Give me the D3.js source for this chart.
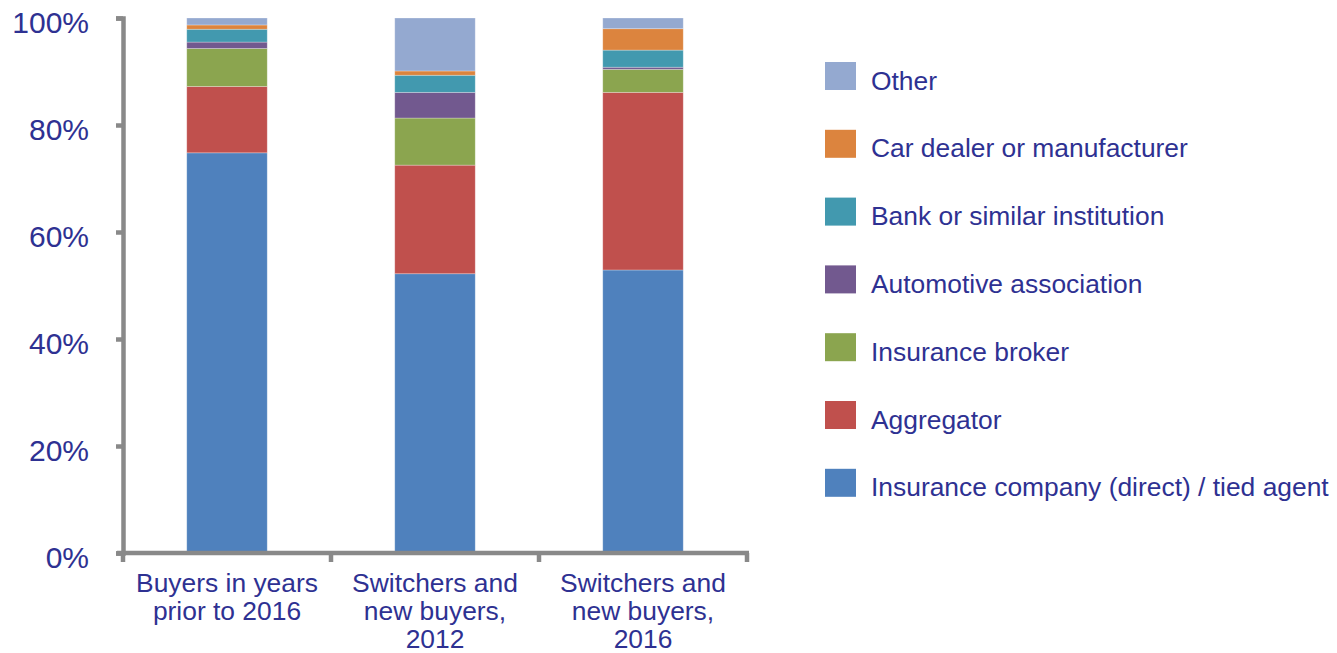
<!DOCTYPE html>
<html>
<head>
<meta charset="utf-8">
<script src="https://cdn.jsdelivr.net/npm/d3@7"></script>
<style>
  body { margin: 0; background: #fff; }
  text { font-family: "Liberation Sans", Arial, sans-serif; }
</style>
</head>
<body>
<svg id="Chart" width="1337" height="653"></svg>
<script>
// categories (x axis), each label split in lines
var categories = ["Buyers in years prior to 2016", "Switchers and new buyers, 2012", "Switchers and new buyers, 2016"];
var categoryLines = [
	["Buyers in years", "prior to 2016"],
	["Switchers and", "new buyers,", "2012"],
	["Switchers and", "new buyers,", "2016"]
];

// series, bottom to top of the stack
var series = [
	"Insurance company (direct) / tied agent",
	"Aggregator",
	"Insurance broker",
	"Automotive association",
	"Bank or similar institution",
	"Car dealer or manufacturer",
	"Other"
];
var seriesColors = ["#4f81bd", "#c0504d", "#8ba54f", "#72598f", "#4299af", "#dc843e", "#94a9d0"];

// share in % for each series, one value per category
var insuranceCompany = [74.8, 52.2, 52.9];
var aggregator       = [12.4, 20.3, 33.2];
var insuranceBroker  = [7.1, 8.8, 4.3];
var automotiveAssoc  = [1.2, 4.8, 0.4];
var bank             = [2.4, 3.2, 3.2];
var carDealer        = [0.8, 0.8, 4.0];
var other            = [1.3, 9.9, 2.0];

var yTicks = [0, 0.2, 0.4, 0.6, 0.8, 1];

var values = [insuranceCompany, aggregator, insuranceBroker, automotiveAssoc, bank, carDealer, other];
var table = categories.map(function(c, i) {
	var row = { category: c };
	series.forEach(function(s, j) { row[s] = values[j][i] / 100; });
	return row;
});

var svg = d3.select("#Chart");
var axisColor = "#898989",
    textColor = "#2e3192",
    fontSize = 26.4,
    axisWidth = 4.5;

var plotLeft = 123, plotRight = 747, plotTop = 18, plotBottom = 553;

var x = d3.scaleBand().domain(categories).range([plotLeft, plotRight]).padding(0);
var y = d3.scaleLinear().domain([0, 1]).range([plotBottom, plotTop]);
var barWidth = x.bandwidth() * 0.387;

var stacked = d3.stack().keys(series)(table);

svg.append("g")
	.selectAll("g")
	.data(stacked)
	.enter().append("g")
	  .attr("fill", function(d, i) { return seriesColors[i]; })
	.selectAll("rect")
	.data(function(d) { return d; })
	.enter().append("rect")
	  .attr("x", function(d) { return x(d.data.category) + (x.bandwidth() - barWidth) / 2; })
	  .attr("width", barWidth)
	  .attr("y", function(d) { return y(d[1]); })
	  .attr("height", function(d) { return y(d[0]) - y(d[1]); })
	  .attr("stroke", "#ffffff")
	  .attr("stroke-opacity", 0.35)
	  .attr("stroke-width", 0.8);

// y axis
var yAxis = svg.append("g")
	.attr("transform", "translate(" + plotLeft + ",0)")
	.call(d3.axisLeft(y).tickValues(yTicks).tickFormat(d3.format(".0%")).tickSize(7).tickSizeOuter(7).tickPadding(27));
yAxis.select(".domain").attr("stroke", axisColor).attr("stroke-width", axisWidth);
yAxis.selectAll(".tick line").attr("stroke", axisColor).attr("stroke-width", axisWidth);
yAxis.selectAll(".tick text")
	.attr("fill", textColor)
	.attr("font-size", 30)
	.attr("dy", "0.47em")
	.style("font-family", "'Liberation Sans', Arial, sans-serif");

// x axis: line with ticks at band edges
var xAxis = svg.append("g");
xAxis.append("line")
	.attr("x1", plotLeft - 6).attr("x2", plotRight + 2)
	.attr("y1", plotBottom).attr("y2", plotBottom)
	.attr("stroke", axisColor).attr("stroke-width", axisWidth);
var edges = categories.map(function(c) { return x(c); }).concat([x(categories[categories.length - 1]) + x.bandwidth()]);
xAxis.selectAll(".edge")
	.data(edges)
	.enter().append("line")
	  .attr("class", "edge")
	  .attr("x1", function(d) { return d; }).attr("x2", function(d) { return d; })
	  .attr("y1", plotBottom).attr("y2", plotBottom + 9)
	  .attr("stroke", axisColor).attr("stroke-width", axisWidth);

xAxis.selectAll(".cat")
	.data(categories)
	.enter().append("text")
	  .attr("class", "cat")
	  .attr("x", function(d) { return x(d) + x.bandwidth() / 2; })
	  .attr("y", 592)
	  .attr("text-anchor", "middle")
	  .attr("fill", textColor)
	  .attr("font-size", fontSize)
	.selectAll("tspan")
	.data(function(d, i) { return categoryLines[i]; })
	.enter().append("tspan")
	  .attr("x", function() { return +d3.select(this.parentNode).attr("x"); })
	  .attr("dy", function(d, i) { return i == 0 ? 0 : 28; })
	  .text(function(d) { return d; });

// legend, top item is the top of the stack
var legendOrder = series.slice().reverse();
var legend = svg.append("g")
	.selectAll("g")
	.data(legendOrder)
	.enter().append("g")
	  .attr("transform", function(d, i) { return "translate(825," + (62 + i * 67.8) + ")"; });

legend.append("rect")
	.attr("width", 31)
	.attr("height", 28)
	.attr("fill", function(d) { return seriesColors[series.indexOf(d)]; });

legend.append("text")
	.attr("x", 46)
	.attr("y", 27.5)
	.attr("fill", textColor)
	.attr("font-size", fontSize)
	.text(function(d) { return d; });
</script>
</body>
</html>
